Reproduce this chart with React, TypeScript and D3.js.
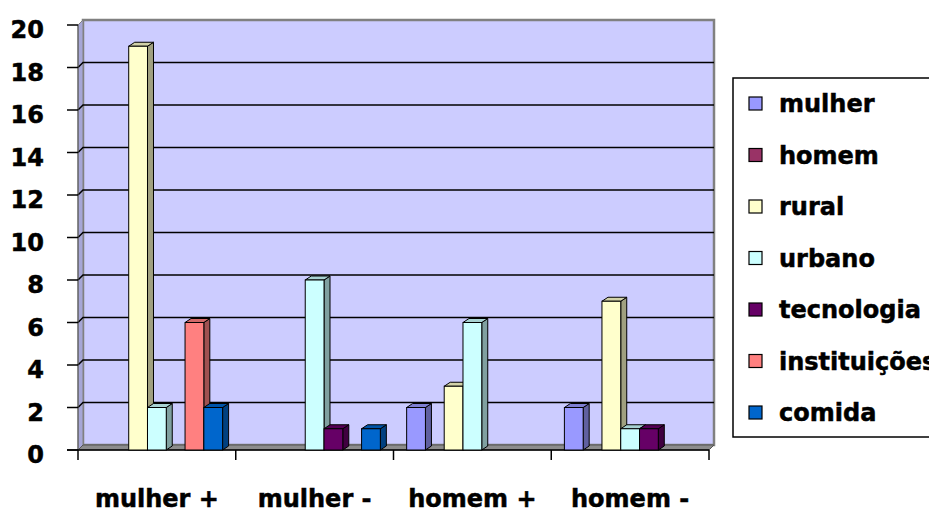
import React from 'react';
import * as d3 from 'd3';

const categories = ['mulher +', 'mulher -', 'homem +', 'homem -'];
const seriesNames = ['mulher', 'homem', 'rural', 'urbano', 'tecnologia', 'instituições', 'comida'];
const seriesColors = ['#9999FF', '#993366', '#FFFFCC', '#CCFFFF', '#660066', '#FF8080', '#0066CC'];

const mulherVals = [0, 0, 2, 2];
const homemVals = [0, 0, 0, 0];
const ruralVals = [19, 0, 3, 7];
const urbanoVals = [2, 8, 6, 1];
const tecnologiaVals = [0, 1, 0, 1];
const instituicoesVals = [6, 0, 0, 0];
const comidaVals = [2, 1, 0, 0];
const seriesValues = [mulherVals, homemVals, ruralVals, urbanoVals, tecnologiaVals, instituicoesVals, comidaVals];

const yTicks = [0, 2, 4, 6, 8, 10, 12, 14, 16, 18, 20];

const W = 929;
const H = 513;
const FONT = '"DejaVu Sans", sans-serif';

// plot frame (front plane), wall depth offset
const left = 78, right = 709, top = 25, bottom = 450;
const wdx = 5, wdy = 5;
// bar depth
const bdx = 6, bdy = 4;

export default function App() {
  const y = d3.scaleLinear().domain([0, 20]).range([bottom, top]);
  const x0 = d3.scaleBand<string>().domain(categories).range([left, right]);
  const x1 = d3.scaleBand<string>().domain(seriesNames).range([0, x0.bandwidth()]).paddingInner(0).paddingOuter(0.7);
  const bw = x1.bandwidth();

  const shade = (c: string, k: number) => d3.color(c)!.darker(k).formatHex();

  const bars: React.ReactNode[] = [];
  categories.forEach((cat, ci) => {
    seriesNames.forEach((s, si) => {
      const v = seriesValues[si][ci];
      if (!v) return;
      const x = (x0(cat) || 0) + (x1(s) || 0);
      const yt = y(v);
      const col = seriesColors[si];
      const topFace = `M${x},${yt}L${x + bdx},${yt - bdy}L${x + bw + bdx},${yt - bdy}L${x + bw},${yt}Z`;
      const side = `M${x + bw},${yt}L${x + bw + bdx},${yt - bdy}L${x + bw + bdx},${bottom - bdy}L${x + bw},${bottom}Z`;
      bars.push(
        <g key={`${cat}-${s}`}>
          <path d={side} fill={shade(col, 1.3)} stroke="#000" strokeWidth={1} strokeLinejoin="round" />
          <path d={topFace} fill={shade(col, 0.55)} stroke="#000" strokeWidth={1} strokeLinejoin="round" />
          <rect x={x} y={yt} width={bw} height={bottom - yt} fill={col} stroke="#000" strokeWidth={1} />
        </g>
      );
    });
  });

  const legendY0 = 112;
  const legendStep = 51.5;
  const txt = { fontFamily: FONT, fontWeight: 'bold' as const, fontSize: 24, fill: '#000', stroke: '#000', strokeWidth: 0.5 };

  return (
    <div>
      <style>{`body{margin:0}`}</style>
      <svg width={W} height={H} style={{ display: 'block', background: '#fff' }}>
        {/* back wall */}
        <rect x={left + wdx} y={top - wdy} width={right - left} height={bottom - top}
          fill="#CCCCFF" stroke="#808080" strokeWidth={2.5} />
        {/* left wall */}
        <path d={`M${left},${bottom}L${left},${top}L${left + wdx},${top - wdy}L${left + wdx},${bottom - wdy}Z`}
          fill="#A6A6D6" stroke="#808080" strokeWidth={1} />
        {/* floor */}
        <path d={`M${left},${bottom}L${right},${bottom}L${right + wdx},${bottom - wdy}L${left + wdx},${bottom - wdy}Z`}
          fill="#8C8C8C" stroke="#555" strokeWidth={1} />
        {/* gridlines */}
        {yTicks.filter(t => t > 0 && t < 20).map(t => (
          <polyline key={t}
            points={`${left},${y(t)} ${left + wdx},${y(t) - wdy} ${right + wdx},${y(t) - wdy}`}
            fill="none" stroke="#000" strokeWidth={1.5} />
        ))}
        {/* y axis */}
        <line x1={left} x2={left} y1={top} y2={bottom} stroke="#555" strokeWidth={1} />
        {yTicks.map(t => (
          <g key={t}>
            <line x1={left - 11} x2={left} y1={y(t)} y2={y(t)} stroke="#000" strokeWidth={1.5} />
            <text x={44} y={y(t) + 13} textAnchor="end" {...txt}>{t}</text>
          </g>
        ))}
        {/* x axis */}
        <line x1={left - 11} x2={right} y1={bottom} y2={bottom} stroke="#000" strokeWidth={1.5} />
        {[...categories.map(c => x0(c) || 0), right].map((xx, i) => (
          <line key={i} x1={xx} x2={xx} y1={bottom} y2={bottom + 10} stroke="#000" strokeWidth={1.5} />
        ))}
        {categories.map(c => (
          <text key={c} x={(x0(c) || 0) + x0.bandwidth() / 2} y={507} textAnchor="middle" {...txt}>{c}</text>
        ))}
        {bars}
        {/* legend */}
        <rect x={733} y={78} width={210} height={359} fill="#fff" stroke="#000" strokeWidth={1.5} />
        {seriesNames.map((s, i) => {
          const by = legendY0 + i * legendStep;
          return (
            <g key={s}>
              <rect x={749} y={by - 15} width={13} height={13} fill={seriesColors[i]} stroke="#000" strokeWidth={1.2} />
              <text x={779} y={by} {...txt}>{s}</text>
            </g>
          );
        })}
      </svg>
    </div>
  );
}
